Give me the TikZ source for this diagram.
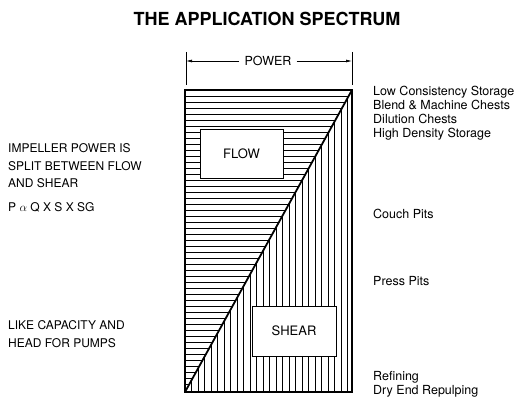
\documentclass[tikz,border=0pt]{standalone}
\usepackage{fontspec}
\setmainfont{TeX Gyre Heros}
\usetikzlibrary{arrows.meta}
\begin{document}
\begin{tikzpicture}[x=1pt,y=-1pt,
  lbl/.style={anchor=west,font=\fontsize{12}{17.5}\selectfont,align=left,inner sep=0pt},
  rlbl/.style={anchor=west,font=\fontsize{12.5}{14}\selectfont,align=left,inner sep=0pt},
  tagbox/.style={draw,fill=white,line width=0.8pt,font=\fontsize{13}{14}\selectfont,inner sep=0pt},
  hatch/.style={line width=0.7pt},
  frame/.style={line width=1.6pt}]
\useasboundingbox (0,0) rectangle (525,414);
% title
\node[font=\bfseries\fontsize{18}{20}\selectfont] (title) at (267,19) {THE APPLICATION SPECTRUM};
% power dimension
\coordinate (tlA) at (186,52); \coordinate (tlB) at (186,85);
\coordinate (trA) at (352,52); \coordinate (trB) at (352,85);
\draw[line width=0.7pt] (tlA) -- (tlB);
\draw[line width=0.7pt] (trA) -- (trB);
\node[font=\fontsize{12.5}{13}\selectfont,inner sep=5pt] (power) at (268,61) {POWER};
\coordinate (pl) at (186,61); \coordinate (pr) at (352,61);
\draw[line width=0.7pt,-{Latex[length=6pt,width=3pt]}] (power.west) -- (pl);
\draw[line width=0.7pt,-{Latex[length=6pt,width=3pt]}] (power.east) -- (pr);
% corners
\coordinate (A) at (185,90); \coordinate (B) at (352,90);
\coordinate (C) at (352,392); \coordinate (D) at (185,392);
% horizontal hatch (upper-left triangle)
\begin{scope}
\clip (A) -- (B) -- (D) -- cycle;
\foreach \yy in {96,102,...,390} \draw[hatch] (185,\yy) -- (352,\yy);
\end{scope}
% vertical hatch (lower-right triangle)
\begin{scope}
\clip (B) -- (C) -- (D) -- cycle;
\foreach \xx in {191.5,198,...,350} \draw[hatch] (\xx,90) -- (\xx,392);
\end{scope}
\draw[frame] (A) -- (B) -- (C) -- (D) -- cycle;
\draw[line width=1.8pt] (D) -- (B);
% boxes
\node[tagbox,minimum width=83pt,minimum height=49pt] (flow) at (241.5,153.5) {FLOW};
\node[tagbox,minimum width=84pt,minimum height=50pt] (shear) at (294,331) {SHEAR};
% left text
\node[lbl] (t1) at (8,166) {IMPELLER POWER IS\\SPLIT BETWEEN FLOW\\AND SHEAR};
\node[lbl] (t2) at (8,207) {P $\alpha$ Q X S X SG};
\node[lbl] (t3) at (8,334) {LIKE CAPACITY AND\\HEAD FOR PUMPS};
% right text
\node[rlbl] (r1) at (373,113) {Low Consistency Storage\\Blend \& Machine Chests\\Dilution Chests\\High Density Storage};
\node[rlbl] (r2) at (373,214) {Couch Pits};
\node[rlbl] (r3) at (373,281) {Press Pits};
\node[rlbl] (r4) at (373,384) {Refining\\Dry End Repulping};
\end{tikzpicture}
\end{document}
